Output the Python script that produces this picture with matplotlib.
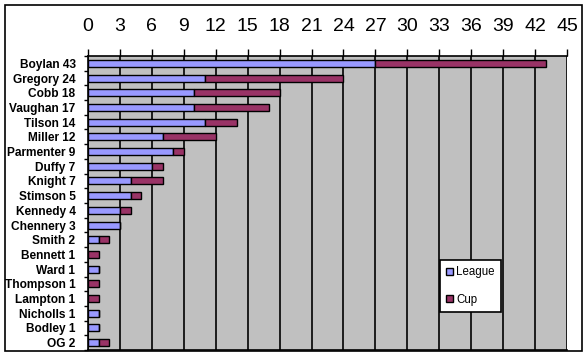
import matplotlib
matplotlib.use("Agg")
import matplotlib.pyplot as plt
from matplotlib.patches import Rectangle
import numpy as np

players = ["Boylan 43", "Gregory 24", "Cobb 18", "Vaughan 17", "Tilson 14", "Miller 12",
           "Parmenter 9", "Duffy 7", "Knight 7", "Stimson 5", "Kennedy 4", "Chennery 3",
           "Smith 2", "Bennett 1", "Ward 1", "Thompson 1", "Lampton 1", "Nicholls 1",
           "Bodley 1", "OG 2"]
league = [27, 11, 10, 10, 11, 7, 8, 6, 4, 4, 3, 3, 1, 0, 1, 0, 0, 1, 1, 1]
cup = [16, 13, 8, 7, 3, 5, 1, 1, 3, 1, 1, 0, 1, 1, 0, 1, 1, 0, 0, 1]
xticks = list(range(0, 46, 3))

plt.rcParams['font.family'] = ['Liberation Sans', 'DejaVu Sans']

fig = plt.figure(figsize=(5.87, 3.56), dpi=100)
W, H = 587, 356
ax = fig.add_axes([88 / W, 1 - 350 / H, 479 / W, 294 / H])
ax.set_facecolor('#C0C0C0')

y = np.arange(len(players))
ax.barh(y, league, height=0.48, color='#9999FF', edgecolor='black', linewidth=1.0, label='League', zorder=3)
ax.barh(y, cup, left=league, height=0.48, color='#993366', edgecolor='black', linewidth=1.0, label='Cup', zorder=3)

ax.set_xlim(0, 45)
ax.set_ylim(len(players) - 0.5, -0.5)
ax.set_xticks(xticks)
ax.xaxis.tick_top()
ax.tick_params(axis='x', which='major', length=5, width=1.0, labelsize=14, pad=10, colors='black')
ax.grid(axis='x', color='black', linewidth=1.2, zorder=1)
ax.set_axisbelow(True)

ax.set_yticks(y)
ax.set_yticklabels(players, fontweight='bold', fontsize=8.6)
ax.tick_params(axis='y', which='major', length=0, pad=9)
ax.set_yticks(np.arange(-0.5, len(players), 1.0), minor=True)
ax.tick_params(axis='y', which='minor', length=3, width=1.0)

ax.spines['right'].set_visible(False)
ax.spines['left'].set_linewidth(1.2)
ax.spines['top'].set_linewidth(1.2)
ax.spines['bottom'].set_linewidth(1.2)

leg = ax.legend(loc='upper left', bbox_to_anchor=((440 - 88) / 479, (350 - 260) / 294),
                frameon=True, fancybox=False, edgecolor='black', framealpha=1,
                fontsize=8.3, handlelength=0.6, handleheight=0.6, handletextpad=0.25,
                labelspacing=1.35, borderpad=0.55, borderaxespad=0)
leg.get_frame().set_linewidth(1.2)

fig.patches.append(Rectangle((5 / W, 1 - 351 / H), 577 / W, 346 / H, transform=fig.transFigure,
                             fill=False, edgecolor='black', linewidth=1.2, zorder=10))

fig.savefig('out.png', dpi=100)
